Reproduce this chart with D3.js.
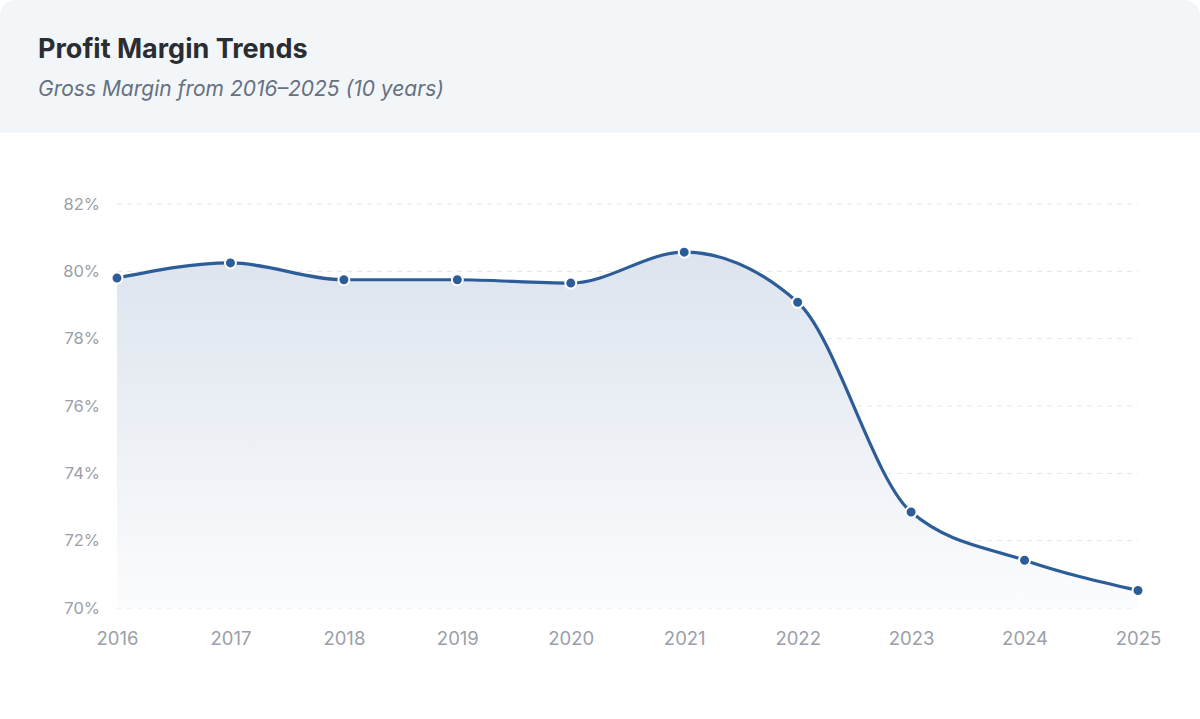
<!DOCTYPE html>
<html>
<head>
<meta charset="utf-8">
<script src="https://cdn.jsdelivr.net/npm/d3@7"></script>
<style>
  html, body { margin: 0; padding: 0; background: #ffffff; }
  body { width: 1200px; height: 719px; overflow: hidden; font-family: Inter, "Noto Sans", sans-serif; }
</style>
</head>
<body>
<div id="chart"></div>
<script>
// data
const years = ["2016", "2017", "2018", "2019", "2020", "2021", "2022", "2023", "2024", "2025"];
const grossMargin = [79.8, 80.25, 79.75, 79.75, 79.65, 80.57, 79.08, 72.85, 71.42, 70.52];
const yTicks = [70, 72, 74, 76, 78, 80, 82];

const W = 1200, H = 719;
const margin = { top: 204, right: 62, bottom: 111, left: 117 },
      width = W - margin.left - margin.right,
      height = H - margin.top - margin.bottom;

const svg = d3.select("#chart")
  .append("svg")
    .attr("width", W)
    .attr("height", H);

const defs = svg.append("defs");
const clip = defs.append("clipPath").attr("id", "card");
clip.append("rect").attr("width", W).attr("height", H).attr("rx", 16);

const grad = defs.append("linearGradient")
  .attr("id", "areaFill")
  .attr("x1", 0).attr("y1", 0).attr("x2", 0).attr("y2", 1);
grad.append("stop").attr("offset", "0%").attr("stop-color", "#dde4ee");
grad.append("stop").attr("offset", "100%").attr("stop-color", "#fbfcfd");

// card + header band
const card = svg.append("g").attr("clip-path", "url(#card)");
card.append("rect").attr("width", W).attr("height", H).attr("fill", "#ffffff");
card.append("rect").attr("width", W).attr("height", 133).attr("fill", "#f3f6f9");

svg.append("text")
  .attr("x", 38).attr("y", 58)
  .attr("font-size", 27).attr("font-weight", 700)
  .attr("fill", "#2a2d31")
  .text("Profit Margin Trends");

svg.append("text")
  .attr("x", 38).attr("y", 96)
  .attr("font-size", 21).attr("font-style", "italic")
  .attr("fill", "#667080")
  .text("Gross Margin from 2016\u20132025 (10 years)");

const g = svg.append("g")
  .attr("transform", `translate(${margin.left},${margin.top})`);

// scales
const x = d3.scalePoint()
  .domain(years)
  .range([0, width]);

const y = d3.scaleLinear()
  .domain([70, 82])
  .range([height, 0]);

// grid lines
g.append("g")
  .selectAll("line")
  .data(yTicks)
  .enter()
  .append("line")
    .attr("x1", 0)
    .attr("x2", width)
    .attr("y1", d => y(d))
    .attr("y2", d => y(d))
    .attr("stroke", "#e3e6ea")
    .attr("stroke-width", 1)
    .attr("stroke-dasharray", "5,5");

// axes
const yAxis = g.append("g")
  .call(d3.axisLeft(y).tickValues(yTicks).tickSize(0).tickPadding(17).tickFormat(d => d + "%"));
yAxis.select(".domain").remove();
yAxis.selectAll("text")
  .attr("font-family", "Inter, sans-serif")
  .attr("font-size", 16.5)
  .attr("fill", "#9aa0a8");

const xAxis = g.append("g")
  .attr("transform", `translate(0,${height})`)
  .call(d3.axisBottom(x).tickSize(0).tickPadding(24));
xAxis.select(".domain").remove();
xAxis.selectAll("text")
  .attr("font-family", "Inter, sans-serif")
  .attr("font-size", 18.5)
  .attr("fill", "#9aa0a8");

const points = years.map((yr, i) => ({ year: yr, value: grossMargin[i] }));

// area
const area = d3.area()
  .x(d => x(d.year))
  .y0(height)
  .y1(d => y(d.value))
  .curve(d3.curveMonotoneX);

g.append("path")
  .datum(points)
  .attr("d", area)
  .attr("fill", "url(#areaFill)");

// line
const line = d3.line()
  .x(d => x(d.year))
  .y(d => y(d.value))
  .curve(d3.curveMonotoneX);

g.append("path")
  .datum(points)
  .attr("d", line)
  .attr("fill", "none")
  .attr("stroke", "#2d5d98")
  .attr("stroke-width", 3.2);

// dots
g.selectAll(".dot")
  .data(points)
  .enter()
  .append("circle")
    .attr("class", "dot")
    .attr("cx", d => x(d.year))
    .attr("cy", d => y(d.value))
    .attr("r", 5.5)
    .attr("fill", "#2d5d98")
    .attr("stroke", "#ffffff")
    .attr("stroke-width", 2);
</script>
</body>
</html>
